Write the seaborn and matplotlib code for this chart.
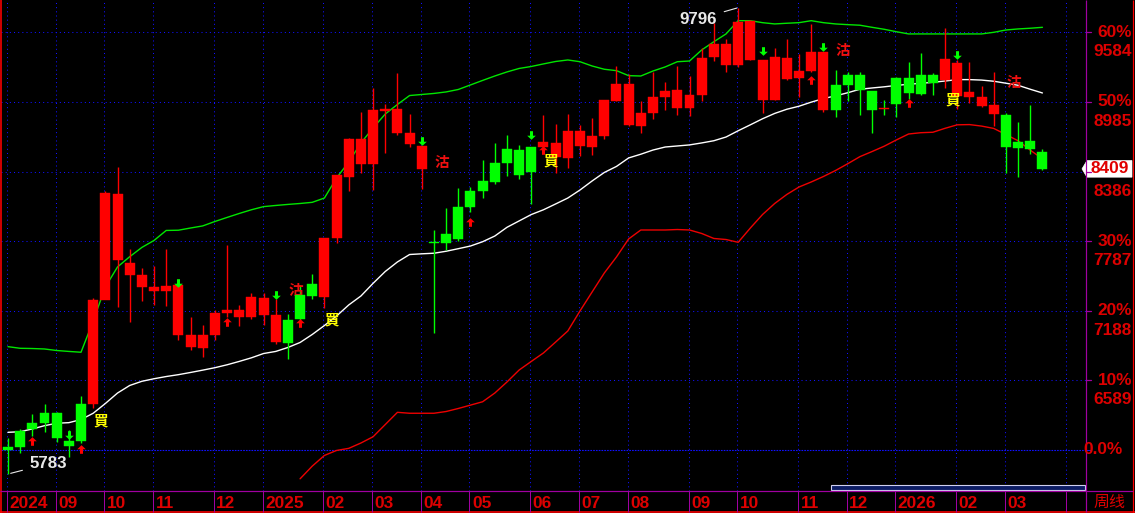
import numpy as np
import pandas as pd
import matplotlib
matplotlib.use("Agg")
import matplotlib.pyplot as plt
import matplotlib.transforms as mtrans
from matplotlib.path import Path
from matplotlib.lines import Line2D
from matplotlib.patches import Rectangle, Polygon
import seaborn as sns

# ---------------- data (weekly candles, Aug 2024 - Mar 2026) ----------------
opens = [5990, 6018, 6168, 6225, 6311, 6067, 6067, 6386, 7282, 8193,
         7597, 7497, 7395, 7358, 7407, 6982, 6870, 6982, 7171, 7195,
         7137, 7301, 7152, 6913, 7117, 7315, 7309, 7817, 8342, 8666,
         8451, 8916, 8922, 8720, 8606, 7780, 7774, 7806, 8084, 8219,
         8299, 8462, 8571, 8385, 8595, 8629, 8505, 8735, 8600, 8692,
         8996, 9139, 8781, 8892, 9030, 9088, 8936, 9045, 9369, 9484,
         9303, 9684, 9346, 9002, 9361, 9194, 9254, 9412, 8916, 9131,
         9217, 9082, 8922, 8967, 9188, 9053, 9217, 9174, 9318, 9073,
         9025, 8959, 8873, 8638, 8580, 8552]
closes = [6018, 6156, 6225, 6311, 6096, 6027, 6386, 7282, 8204, 7625,
          7497, 7393, 7358, 7401, 6982, 6879, 6982, 7171, 7195, 7137,
          7309, 7152, 6922, 7109, 7324, 7418, 7812, 8356, 8666, 8451,
          8916, 8910, 8720, 8623, 8408, 7769, 7849, 8078, 8219, 8305,
          8457, 8580, 8356, 8595, 8643, 8514, 8735, 8609, 8692, 9002,
          9139, 8787, 8887, 9025, 9079, 8936, 9045, 9363, 9484, 9303,
          9676, 9346, 9002, 9369, 9182, 9251, 9412, 8916, 9131, 9217,
          9088, 8916, 8926, 9188, 9065, 9217, 9151, 9352, 9039, 9025,
          8950, 8881, 8600, 8591, 8649, 8409]
highs = [6093, 6171, 6300, 6386, 6320, 6162, 6457, 7300, 8219, 8423,
         7717, 7559, 7573, 7717, 7407, 7132, 7066, 7195, 7754, 7238,
         7344, 7344, 7287, 7160, 7410, 7504, 7812, 8356, 8677, 8901,
         9108, 8965, 9231, 8881, 8606, 7883, 8070, 8247, 8251, 8485,
         8629, 8701, 8614, 8595, 8873, 8795, 8881, 8787, 8844, 9002,
         9294, 9225, 8993, 9245, 9157, 9294, 9208, 9449, 9667, 9524,
         9796, 9690, 9346, 9447, 9524, 9398, 9656, 9412, 9260, 9245,
         9245, 9082, 9002, 9200, 9331, 9409, 9234, 9619, 9346, 9331,
         9122, 9245, 8890, 8815, 8959, 8580]
lows = [5783, 5964, 6110, 6148, 6061, 5930, 6050, 6351, 7295, 7218,
        7094, 7272, 7238, 7232, 6936, 6850, 6788, 6936, 7137, 7057,
        7115, 7066, 6900, 6771, 7100, 7287, 7209, 7769, 8221, 8371,
        8227, 8543, 8700, 8600, 8236, 6994, 7711, 7790, 8038, 8161,
        8276, 8350, 8322, 8107, 8560, 8371, 8419, 8522, 8528, 8666,
        8996, 8778, 8715, 8836, 8916, 8873, 8864, 8996, 9337, 9245,
        9288, 9346, 8887, 9002, 9174, 9025, 9243, 8899, 8858, 8996,
        8873, 8715, 8873, 8858, 9010, 9045, 9045, 9102, 8922, 8978,
        8939, 8778, 8371, 8337, 8535, 8400]

upper_band = [6879, 6865, 6863, 6859, 6846, 6838, 6831, 7100, 7393, 7565,
              7653, 7733, 7793, 7879, 7881, 7900, 7918, 7956, 7991, 8025,
              8057, 8084, 8094, 8103, 8111, 8121, 8158, 8331, 8468, 8632,
              8761, 8881, 8963, 9040, 9049, 9058, 9071, 9092, 9131, 9170,
              9208, 9243, 9273, 9290, 9312, 9333, 9346, 9331, 9294, 9266,
              9254, 9211, 9208, 9251, 9286, 9331, 9337, 9432, 9503, 9570,
              9684, 9684, 9667, 9656, 9662, 9667, 9684, 9667, 9656, 9650,
              9645, 9627, 9610, 9589, 9570, 9570, 9570, 9570, 9570, 9570,
              9570, 9584, 9604, 9613, 9619, 9627]
mid_band = [6142, 6147, 6171, 6199, 6220, 6225, 6252, 6306, 6390, 6480,
            6545, 6581, 6603, 6622, 6638, 6657, 6677, 6698, 6723, 6752,
            6783, 6820, 6838, 6872, 6915, 6984, 7061, 7143, 7238, 7315,
            7424, 7526, 7608, 7672, 7678, 7683, 7700, 7722, 7745, 7782,
            7831, 7906, 7961, 8016, 8057, 8107, 8158, 8227, 8305, 8378,
            8430, 8503, 8535, 8571, 8597, 8606, 8615, 8632, 8651, 8683,
            8737, 8788, 8840, 8886, 8922, 8948, 8983, 9014, 9037, 9064,
            9094, 9105, 9115, 9127, 9137, 9145, 9154, 9165, 9177, 9177,
            9173, 9163, 9146, 9128, 9094, 9062]
lower_start = 24
lower_band = [5742, 5851, 5943, 5986, 6004, 6050, 6104, 6209, 6314, 6306,
              6306, 6306, 6321, 6347, 6376, 6405, 6480, 6575, 6678, 6752,
              6825, 6919, 7014, 7186, 7350, 7513, 7651, 7806, 7883, 7883,
              7883, 7887, 7883, 7853, 7810, 7801, 7777, 7900, 8016, 8111,
              8189, 8253, 8296, 8343, 8395, 8453, 8514, 8558, 8604, 8658,
              8709, 8720, 8724, 8758, 8788, 8790, 8777, 8757, 8704, 8651,
              8570, 8495]

# trade signals (買 = buy, 沽 = sell) and the level where the label sits
buy_idx = [7, 26, 44, 77]
buy_label_price = [6248, 7109, 8477, 9002]
sell_idx = [23, 35, 68, 82]
sell_label_price = [7367, 8468, 9432, 9157]

# small arrows
down_arrow_idx = [5, 14, 22, 34, 43, 62, 67, 78]
down_arrow_price = [6123, 7423, 7324, 8653, 8701, 9423, 9454, 9385]
up_arrow_idx = [2, 6, 18, 24, 38, 44, 66, 74]
up_arrow_price = [6067, 5999, 7087, 7079, 7948, 8571, 9170, 8976]

# doji drawn in the rising colour while in a sell phase
red_doji_idx = [72]

month_start_idx = [0, 4, 8, 12, 17, 21, 26, 30, 34, 38, 43, 47, 51, 56, 60, 65, 69, 73, 78, 82, 87]
month_labels = ['2024', '09', '10', '11', '12', '2025', '02', '03', '04', '05', '06', '07', '08',
                '09', '10', '11', '12', '2026', '02', '03', '']

base_price = 5990
pct_levels = [0, 10, 20, 30, 40, 50, 60]
pct_labels = ['0.0%', '10%', '20%', '30%', '40%', '50%', '60%']
price_labels = ['', '6589', '7188', '7787', '8386', '8985', '9584']
last_price = 8409
hi_label, lo_label = '9796', '5783'
hi_idx, lo_idx = 60, 0

# ---------------- figure ----------------
sns.set_style("dark", {"axes.facecolor": "black", "figure.facecolor": "black"})
plt.rcParams['font.family'] = ['Liberation Sans', 'DejaVu Sans']
SANS = ['Liberation Sans', 'DejaVu Sans']

W, H = 1135, 513
fig = plt.figure(figsize=(W / 100, H / 100), dpi=100, facecolor='black')
AX_L, AX_R, AX_T, AX_B = 1, 1086, 0, 491
YLO, YHI = 5637, 9862
XLO, XHI = -0.575, 88.58
ax = fig.add_axes([AX_L / W, 1 - AX_B / H, (AX_R - AX_L) / W, (AX_B - AX_T) / H])
ax.set_facecolor('black')
for s in ax.spines.values():
    s.set_visible(False)
ax.set_xticks([]); ax.set_yticks([])

RED = '#ff0000'
GREEN = '#00ff00'
BLUE = '#1010ff'
PURPLE = '#a000a0'
LABEL_RED = '#dd0000'

n = len(opens)
idx = np.arange(n)

# grid
levels = [base_price * (1 + p / 100) for p in pct_levels]
for lv, p in zip(levels, pct_levels):
    if p == 0:
        ax.axhline(lv, color=BLUE, lw=0.8, ls=(0, (1.5, 1)), zorder=1)
    else:
        ax.axhline(lv, color=BLUE, lw=0.75, ls=(0, (1, 3)), zorder=1)
for m in month_start_idx:
    ax.axvline(m - 0.08, color=BLUE, lw=0.75, ls=(0, (1, 3)), zorder=1)

# bands
bands = pd.DataFrame({'idx': idx, 'upper': upper_band, 'mid': mid_band})
low_df = pd.DataFrame({'idx': np.arange(lower_start, lower_start + len(lower_band)),
                       'lower': lower_band})
sns.lineplot(data=bands, x='idx', y='upper', ax=ax, color='#00e600', lw=1.0,
             estimator=None, legend=False, zorder=3)
sns.lineplot(data=bands, x='idx', y='mid', ax=ax, color='white', lw=1.0,
             estimator=None, legend=False, zorder=3)
sns.lineplot(data=low_df, x='idx', y='lower', ax=ax, color='#ee0000', lw=1.0,
             estimator=None, legend=False, zorder=3)
ax.set_xlabel(''); ax.set_ylabel('')
ax.set_xlim(XLO, XHI)
ax.set_ylim(YLO, YHI)

# candle colour state from signals
ev = dict([(i, 1) for i in buy_idx] + [(i, 0) for i in sell_idx])
state = []
cur = 0
for i in range(n):
    if i in ev:
        cur = ev[i]
    state.append(cur)
colors = [RED if s == 1 else GREEN for s in state]
body_colors = [RED if i in red_doji_idx else col for i, col in enumerate(colors)]

o = np.array(opens); c = np.array(closes)
bottom = np.minimum(o, c)
height = np.maximum(np.abs(c - o), 10)
ax.vlines(idx, lows, highs, colors=colors, lw=1.0, zorder=4)
ax.bar(idx, height, bottom=bottom, width=0.82, color=body_colors, edgecolor=body_colors,
       lw=0.3, zorder=5)

# arrows
up_path = Path([(0, 1), (1, 0.05), (0.35, 0.05), (0.35, -1), (-0.35, -1),
                (-0.35, 0.05), (-1, 0.05), (0, 1)],
               [Path.MOVETO] + [Path.LINETO] * 6 + [Path.CLOSEPOLY])
down_path = Path([(x, -y) for x, y in up_path.vertices], up_path.codes)
ax.plot(up_arrow_idx, up_arrow_price, ls='none', marker=up_path, ms=6.2,
        color=RED, mew=0, zorder=6)
ax.plot(down_arrow_idx, down_arrow_price, ls='none', marker=down_path, ms=6.2,
        color=GREEN, mew=0, zorder=6)

# signal labels
cjk = ['Noto Sans CJK TC', 'DejaVu Sans']
for i, p in zip(buy_idx, buy_label_price):
    ax.text(i + 0.62, p, '買', color='#ffff00', fontsize=10.5, fontweight='bold',
            family=cjk, ha='center', va='center', zorder=7)
for i, p in zip(sell_idx, sell_label_price):
    ax.text(i + 0.62, p, '沽', color='#f01010', fontsize=10.5, fontweight='bold',
            family=cjk, ha='center', va='center', zorder=4.5)

# extreme labels
ax.annotate(hi_label, xy=(hi_idx, highs[hi_idx]), xytext=(-40, -11.5),
            textcoords='offset pixels', ha='center', va='center', color='#e8e8e8',
            fontsize=12.2, fontweight='bold', family=SANS,
            arrowprops=dict(arrowstyle='-', color='#e8e8e8', lw=0.8, shrinkA=3, shrinkB=1),
            zorder=8)
ax.annotate(lo_label, xy=(lo_idx, lows[lo_idx]), xytext=(40.5, 10.5),
            textcoords='offset pixels', ha='center', va='center', color='#e8e8e8',
            fontsize=12.2, fontweight='bold', family=SANS,
            arrowprops=dict(arrowstyle='-', color='#e8e8e8', lw=0.8, shrinkA=3, shrinkB=2),
            zorder=8)

# ---------------- frame / panels ----------------
def fline(x0, y0, x1, y1, color, lw=1.0):
    fig.add_artist(Line2D([x0 / W, x1 / W], [1 - y0 / H, 1 - y1 / H],
                          transform=fig.transFigure, color=color, lw=lw * 0.72,
                          solid_capstyle='butt'))

fline(0.8, 0, 0.8, H, RED, 1.6)
fline(1133, 0, 1133, H, RED, 1.2)
fline(0, 512, W, 512, RED, 1.6)
fline(0, 491, 1133, 491, PURPLE, 1.2)
fline(1086, 0, 1086, 512, PURPLE, 1.2)

# month ticks + labels
xt = ax.get_xaxis_transform()
for m, lab in zip(month_start_idx, month_labels):
    xpix = AX_L + (m - 0.08 - XLO) / (XHI - XLO) * (AX_R - AX_L)
    fline(xpix, 491, xpix, 512, PURPLE, 1.0)
    if lab:
        ax.text(m + 0.12, (AX_B - 504) / (AX_B - AX_T), lab, transform=xt,
                color=LABEL_RED, fontsize=12.4, fontweight='bold', family=SANS,
                ha='left', va='center', clip_on=False)

# right scale labels
bt = mtrans.blended_transform_factory(fig.transFigure, ax.transData)
bt_low = mtrans.offset_copy(bt, fig=fig, y=-19.5, units='dots')
for lv, pl, prl in zip(levels, pct_labels, price_labels):
    if pl == '0.0%':
        fig.text(1123 / W, lv, pl, transform=bt, color=LABEL_RED, fontsize=12.4,
                 fontweight='bold', family=SANS, ha='right', va='center')
        fline(1086, 450, 1091, 450, BLUE, 1.0)
        continue
    fig.add_artist(Line2D([1086 / W, 1091 / W], [lv, lv], transform=bt,
                          color=PURPLE, lw=0.9))
    if pl != '40%':
        fig.text(1132 / W, lv, pl, transform=bt, color=LABEL_RED, fontsize=12.4,
                 fontweight='bold', family=SANS, ha='right', va='center')
    fig.text(1132 / W, lv, prl, transform=bt_low, color=LABEL_RED, fontsize=12.4,
             fontweight='bold', family=SANS, ha='right', va='center')

# last price marker
lp_y = 1 - (AX_B - (last_price - YLO) / (YHI - YLO) * (AX_B - AX_T)) / H
hh = 8.3 / H
fig.add_artist(Polygon([(1082 / W, lp_y), (1087 / W, lp_y + hh), (1132 / W, lp_y + hh),
                        (1132 / W, lp_y - hh), (1087 / W, lp_y - hh)],
                       closed=True, transform=fig.transFigure, facecolor='white',
                       edgecolor='white', lw=0.5))
fig.text(1110 / W, lp_y, str(last_price), color='#e00000', fontsize=12.4,
         fontweight='bold', family=SANS, ha='center', va='center')

# period label
fig.text(1109 / W, 1 - 502 / H, '周线', color=LABEL_RED, fontsize=11.5,
         family=['Noto Sans CJK SC', 'DejaVu Sans'], ha='center', va='center')

# scroll bar
fig.add_artist(Rectangle((831 / W, 1 - 489.5 / H), (1085 - 831) / W, 4.5 / H,
                         transform=fig.transFigure, facecolor='#0c1c64',
                         edgecolor='#d0d0f0', lw=0.8))

fig.savefig('out.png', dpi=100, facecolor='black')
